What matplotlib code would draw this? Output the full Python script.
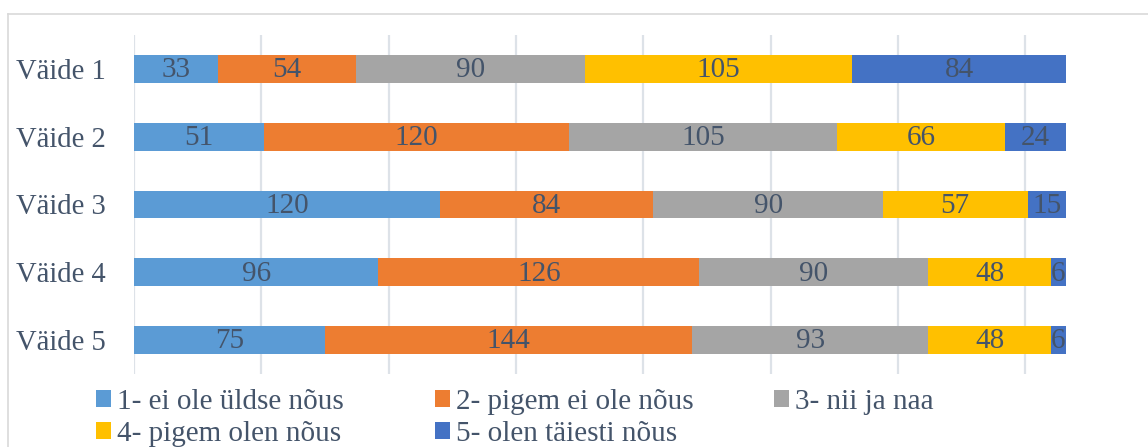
import matplotlib.pyplot as plt
import numpy as np

plt.rcParams['font.family'] = ['Liberation Serif', 'DejaVu Serif']

categories = ["Väide 1", "Väide 2", "Väide 3", "Väide 4", "Väide 5"]
series_names = ["1- ei ole üldse nõus", "2- pigem ei ole nõus", "3- nii ja naa",
                "4- pigem olen nõus", "5- olen täiesti nõus"]
s1 = [33, 51, 120, 96, 75]
s2 = [54, 120, 84, 126, 144]
s3 = [90, 105, 90, 90, 93]
s4 = [105, 66, 57, 48, 48]
s5 = [84, 24, 15, 6, 6]

colors = ["#5B9BD5", "#ED7D31", "#A5A5A5", "#FFC000", "#4472C4"]
text_color = "#44546A"
grid_color = "#DDE2E8"

fig = plt.figure(figsize=(11.48, 4.47), dpi=100)
W, H = 1148, 447
ax = fig.add_axes([134 / W, 1 - 374 / H, (1066 - 134) / W, (374 - 35) / H])

y = np.arange(len(categories))
left = np.zeros(len(categories))
handles = []
for name, vals, c in zip(series_names, [s1, s2, s3, s4, s5], colors):
    vals = np.array(vals)
    bars = ax.barh(y, vals, left=left, height=0.41, color=c, label=name, zorder=2)
    handles.append(bars)
    for yi, l, v in zip(y, left, vals):
        ax.text(l + v / 2, yi + 0.02, str(v), ha='center', va='center',
                fontsize=21, color=text_color, zorder=3)
    left += vals

total = left.max()
ax.set_xlim(0, total)
ax.set_ylim(len(categories) - 0.5, -0.5)
ax.set_xticks(np.arange(0, total, 50))
ax.xaxis.grid(True, color=grid_color, linewidth=1.6, zorder=0)
ax.tick_params(axis='x', length=0, labelbottom=False)
ax.tick_params(axis='y', length=0, pad=20)
ax.set_yticks(y)
ax.set_yticklabels(categories, fontsize=20.6, color=text_color)
for s in ax.spines.values():
    s.set_visible(False)

# legend: three columns, placed like the original
columns = [[0, 3], [1, 4], [2]]
col_x = [96, 435, 774]
for idx, cx in zip(columns, col_x):
    leg = fig.legend([handles[i] for i in idx], [series_names[i] for i in idx],
                     loc='upper left', bbox_to_anchor=(cx / W, 1 - 389 / H),
                     frameon=False, fontsize=21, handlelength=0.52, handleheight=0.52,
                     handletextpad=0.2, labelspacing=0.2,
                     borderpad=0, borderaxespad=0)
    for t in leg.get_texts():
        t.set_color(text_color)

# chart area frame
fig.add_artist(plt.Line2D([8 / W, 1], [1 - 14 / H, 1 - 14 / H], color="#D9D9D9", linewidth=1.2))
fig.add_artist(plt.Line2D([8 / W, 8 / W], [0, 1 - 14 / H], color="#D9D9D9", linewidth=1.2))

fig.savefig("out.png", dpi=100)
